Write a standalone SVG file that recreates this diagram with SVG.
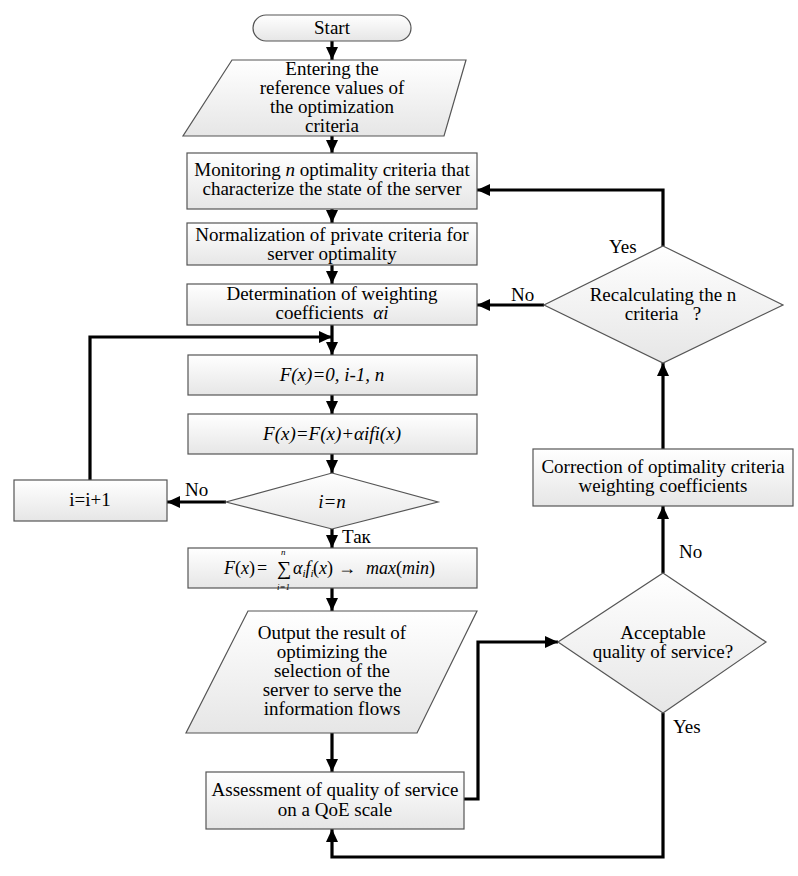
<svg xmlns="http://www.w3.org/2000/svg" width="798" height="876" viewBox="0 0 798 876" font-family="'Liberation Serif', 'Times New Roman', serif">
<style>
.s{fill:url(#g);stroke:#555;stroke-width:1.2}
.t{font-family:'Liberation Serif','Times New Roman',serif;font-size:19px;fill:#000;text-anchor:middle}
.i{font-style:italic}
.c{fill:none;stroke:#000;stroke-width:3.2;marker-end:url(#ah)}
.l{font-family:'Liberation Serif','Times New Roman',serif;font-size:19px;fill:#000}
.f{font-family:'Liberation Serif','Times New Roman',serif;font-size:18px;fill:#000}
.sm{font-family:'Liberation Serif','Times New Roman',serif;font-size:9px;fill:#000;font-style:italic}
</style>
<defs>
<linearGradient id="g" x1="0" y1="0" x2="0" y2="1">
<stop offset="0" stop-color="#ffffff"/>
<stop offset="1" stop-color="#e6e6e6"/>
</linearGradient>
<marker id="ah" markerUnits="userSpaceOnUse" markerWidth="14" markerHeight="12" refX="13" refY="6" orient="auto">
<path d="M0,0 L13,6 L0,12 z" fill="#000"/>
</marker>
</defs>
<rect width="798" height="876" fill="#fff"/>

<g id="connectors">
<path class="c" d="M332,41 V60"/>
<path class="c" d="M332,136 V153"/>
<path class="c" d="M332,209 V223"/>
<path class="c" d="M332,265 V284"/>
<path class="c" d="M332,325 V355"/>
<path class="c" d="M90,480 V337 H332"/>
<path class="c" d="M332,395 V414"/>
<path class="c" d="M332,454 V473"/>
<path class="c" d="M226,502 H167"/>
<path class="c" d="M332,529 V548"/>
<path class="c" d="M332,588 V611"/>
<path class="c" d="M332,733 V772"/>
<path class="c" d="M464,799 H478 V642 H558"/>
<path class="c" d="M663,573 V506"/>
<path class="c" d="M663,713 V857 H332 V829"/>
<path class="c" d="M663,449 V363"/>
<path class="c" d="M663,246 V190 H477"/>
<path class="c" d="M544,305 H477"/>
<text class="l" x="185" y="496">No</text>
<text class="l" x="342" y="543">Так</text>
<text class="l" x="679" y="558">No</text>
<text class="l" x="673" y="733">Yes</text>
<text class="l" x="609" y="253">Yes</text>
<text class="l" x="511" y="301">No</text>
</g>

<g id="start">
<rect class="s" x="253" y="15" width="158" height="26" rx="13"/>
<text class="t" x="332" y="34">Start</text>
</g>

<g id="input">
<polygon class="s" points="232,60 466,60 444,136 183,136"/>
<text class="t" x="332" y="75">Entering the</text>
<text class="t" x="332" y="94">reference values of</text>
<text class="t" x="332" y="113">the optimization</text>
<text class="t" x="332" y="132">criteria</text>
</g>

<g id="monitoring">
<rect class="s" x="187" y="153" width="290" height="56"/>
<text class="t" x="332" y="176">Monitoring <tspan class="i">n</tspan> optimality criteria that</text>
<text class="t" x="332" y="195">characterize the state of the server</text>
</g>

<g id="normalization">
<rect class="s" x="187" y="223" width="290" height="42"/>
<text class="t" x="332" y="241">Normalization of private criteria for</text>
<text class="t" x="332" y="260">server optimality</text>
</g>

<g id="weights">
<rect class="s" x="187" y="284" width="290" height="41"/>
<text class="t" x="332" y="300">Determination of weighting</text>
<text class="t" x="332" y="319" xml:space="preserve">coefficients  <tspan class="i">αi</tspan></text>
</g>

<g id="init">
<rect class="s" x="188" y="355" width="289" height="40"/>
<text class="t i" x="332" y="381">F(x)=0, i-1, n</text>
</g>

<g id="accumulate">
<rect class="s" x="188" y="414" width="289" height="40"/>
<text class="t i" x="332" y="440">F(x)=F(x)+αifi(x)</text>
</g>

<g id="check">
<polygon class="s" points="332,473 438,502 332,529 226,502"/>
<text class="t i" x="332" y="508">i=n</text>
</g>

<g id="increment">
<rect class="s" x="14" y="480" width="153" height="41"/>
<text class="t" x="90" y="506">i=i+1</text>
</g>

<g id="result-formula">
<rect class="s" x="188" y="548" width="289" height="40"/>
<text class="f" x="224" y="574"><tspan class="i">F</tspan>(<tspan class="i">x</tspan>)</text>
<text class="f" x="257" y="574">=</text>
<text class="f" x="277" y="575" style="font-size:20px">∑</text>
<text class="sm" x="281" y="555">n</text>
<text class="sm" x="277" y="590">i=1</text>
<text class="f" x="293" y="574"><tspan class="i">α</tspan><tspan class="i" style="font-size:11px" dy="3">i</tspan><tspan class="i" dy="-3">f</tspan><tspan class="i" style="font-size:11px" dy="3">i</tspan></text>
<text class="f" x="313" y="574">(<tspan class="i">x</tspan>)</text>
<text class="f" x="338" y="574">→</text>
<text class="f" x="366" y="574"><tspan class="i">max</tspan>(<tspan class="i">min</tspan>)</text>
</g>

<g id="output">
<polygon class="s" points="248,611 477,611 417,733 186,733"/>
<text class="t" x="332" y="639">Output the result of</text>
<text class="t" x="332" y="658">optimizing the</text>
<text class="t" x="332" y="677">selection of the</text>
<text class="t" x="332" y="696">server to serve the</text>
<text class="t" x="332" y="715">information flows</text>
</g>

<g id="assessment">
<rect class="s" x="206" y="772" width="258" height="57"/>
<text class="t" x="335" y="796">Assessment of quality of service</text>
<text class="t" x="335" y="816">on a QoE scale</text>
</g>

<g id="acceptable">
<polygon class="s" points="663,573 766,642 663,713 558,642"/>
<text class="t" x="663" y="639">Acceptable</text>
<text class="t" x="663" y="658">quality of service?</text>
</g>

<g id="correction">
<rect class="s" x="533" y="449" width="260" height="57"/>
<text class="t" x="663" y="473">Correction of optimality criteria</text>
<text class="t" x="663" y="492">weighting coefficients</text>
</g>

<g id="recalc">
<polygon class="s" points="663,246 783,305 663,363 544,305"/>
<text class="t" x="663" y="301">Recalculating the n</text>
<text class="t" x="663" y="320" xml:space="preserve">criteria   ?</text>
</g>
</svg>
